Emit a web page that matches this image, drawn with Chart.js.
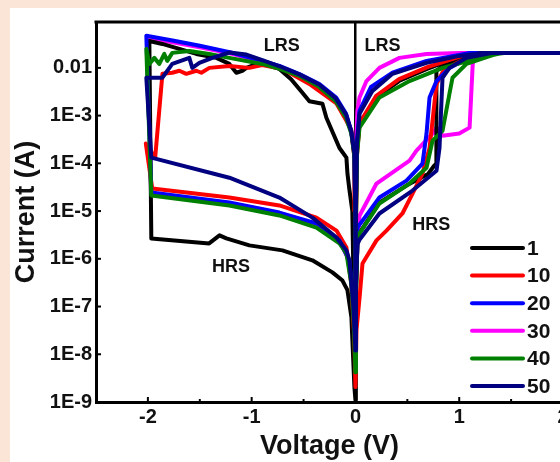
<!DOCTYPE html>
<html>
<head>
<meta charset="utf-8">
<script src="https://cdn.jsdelivr.net/npm/chart.js@4.4.0/dist/chart.umd.min.js"></script>
<style>
  html, body { margin: 0; padding: 0; width: 560px; height: 462px; overflow: hidden; background: #fae5d7; }
  #panel { position: absolute; left: 10px; top: 8px; width: 600px; height: 454px; background: #ffffff; }
  canvas { display: block; }
</style>
</head>
<body>
<div id="panel"><canvas id="c" width="600" height="454"></canvas></div>
<script>
// ---------- data ----------
const cycleLabels = ['1', '10', '20', '30', '40', '50'];

const xTickValues = [-2, -1, 0, 1, 2];
const xTickLabels = ['-2', '-1', '0', '1', '2'];
const yTickValues = [1e-2, 1e-3, 1e-4, 1e-5, 1e-6, 1e-7, 1e-8, 1e-9];
const yTickLabels = ['0.01', '1E-3', '1E-4', '1E-5', '1E-6', '1E-7', '1E-8', '1E-9'];

// cycle 1
const voltage1 = [0, 0.004, 0.02, 0.23, 0.5, 0.7, 0.76, 0.78, 0.78, 0.85, 1.0, 1.2, 1.4, 2.0,
  1.2, 0.97, 0.69, 0.42, 0.2, 0.04, 0.015, 0.005, 0,
  -0.03, -0.06, -0.077, -0.087, -0.154, -0.28, -0.318, -0.444, -0.511, -0.62, -0.733, -0.926, -1.05, -1.09, -1.148, -1.215, -1.34, -1.533, -1.697, -1.861, -1.986,
  -1.967, -1.41, -1.31, -1.244, -1.022, -0.704, -0.415, -0.222, -0.125, -0.077, -0.039, -0.01, 0];
const current1 = [1.1e-9, 1e-7, 3e-6, 1.5e-5, 3.5e-5, 6e-5, 9e-5, 1.0e-4, 8.7e-3, 1.1e-2, 1.4e-2, 1.8e-2, 2.06e-2, 2.06e-2,
  2.06e-2, 1.62e-2, 9.5e-3, 5.3e-3, 2.4e-3, 6.8e-4, 2e-4, 1e-5, 1.1e-9,
  1e-5, 3e-5, 6.1e-5, 1.32e-4, 2.1e-4, 9e-4, 1.77e-3, 2.0e-3, 3.0e-3, 5.8e-3, 9.5e-3, 1.27e-2, 1.0e-2, 8.7e-3, 7.9e-3, 1.21e-2, 1.62e-2, 1.96e-2, 2.5e-2, 3.17e-2, 3.66e-2,
  2.67e-6, 2.1e-6, 3.1e-6, 2.67e-6, 1.91e-6, 1.5e-6, 9.3e-7, 5.2e-7, 3.5e-7, 2.2e-7, 6e-8, 2.06e-9, 1.1e-9];

// cycle 10
const voltage10 = [0, 0.01, 0.04, 0.068, 0.203, 0.299, 0.453, 0.55, 0.646, 0.714, 0.743, 0.781, 0.85, 1.0, 1.2, 1.4, 2.0,
  1.2, 1.0, 0.7, 0.42, 0.2, 0.04, 0.015, 0.005, 0,
  -0.005, -0.01, -0.04, -0.087, -0.183, -0.444, -0.7, -0.9, -1.022, -1.215, -1.408, -1.485, -1.533, -1.63, -1.697, -1.765, -1.86,
  -1.93, -2.02, -1.958, -1.215, -0.733, -0.376, -0.183, -0.087, -0.04, -0.01, 0];
const current10 = [2.06e-9, 3.2e-8, 1.56e-7, 8e-7, 2.43e-6, 3.9e-6, 8.9e-6, 2.33e-5, 6.1e-5, 2.1e-4, 7.8e-4, 4.6e-3, 9e-3, 1.35e-2, 1.8e-2, 2.06e-2, 2.06e-2,
  2.06e-2, 1.7e-2, 1.05e-2, 5.8e-3, 2.6e-3, 7e-4, 1.5e-4, 5e-6, 2.06e-9,
  1e-5, 1.3e-4, 5e-4, 7.8e-4, 1.8e-3, 4.6e-3, 9.5e-3, 1.15e-2, 1.0e-2, 1.1e-2, 1.0e-2, 7.9e-3, 8.7e-3, 7.5e-3, 8.7e-3, 7.9e-3, 7.5e-3,
  1.3e-4, 2.6e-4, 2.96e-5, 1.92e-5, 1.31e-5, 7.3e-6, 3.9e-6, 1.73e-6, 3e-7, 2e-8, 2.06e-9];

// cycle 20
const voltage20 = [0, 0.005, 0.019, 0.231, 0.492, 0.646, 0.685, 0.714, 0.781, 0.906, 1.1, 1.3, 2.0,
  1.1, 1.0, 0.685, 0.357, 0.15, 0.039, 0.015, 0.005, 0,
  -0.004, -0.01, -0.041, -0.09, -0.186, -0.347, -0.54, -0.733, -0.926, -1.2, -1.5, -1.75, -2.015,
  -1.967, -1.215, -0.733, -0.376, -0.154, -0.06, -0.02, 0];
const current20 = [3e-8, 5e-7, 4.5e-6, 1.92e-5, 4.35e-5, 9.9e-5, 4.2e-4, 2.4e-3, 5.3e-3, 1.0e-2, 1.65e-2, 2.06e-2, 2.06e-2,
  2.06e-2, 1.87e-2, 1.4e-2, 7.9e-3, 4e-3, 1.26e-3, 3e-4, 2e-5, 3e-8,
  1e-5, 1.6e-4, 4.8e-4, 1.09e-3, 2.4e-3, 4.6e-3, 7.4e-3, 1.1e-2, 1.45e-2, 2.1e-2, 2.9e-2, 3.7e-2, 4.7e-2,
  2.44e-5, 1.51e-5, 9.3e-6, 5.5e-6, 2.43e-6, 9.3e-7, 1.35e-7, 3e-8];

// cycle 30
const voltage30 = [0, 0.005, 0.019, 0.039, 0.203, 0.521, 0.588, 0.743, 0.781, 0.84, 1.0, 1.1, 1.13, 1.15, 2.0,
  1.0, 0.685, 0.424, 0.231, 0.106, 0.039, 0.019, 0.01, 0.004, 0,
  -0.004, -0.01, -0.04, -0.09, -0.19, -0.35, -0.54, -0.73, -0.93, -1.2, -1.5, -1.75, -2.0,
  -1.97, -1.2, -0.73, -0.38, -0.15, -0.06, -0.02, 0];
const current30 = [3e-8, 3e-7, 2e-6, 8e-6, 3.77e-5, 1.14e-4, 1.84e-4, 4.2e-4, 5.6e-4, 3.8e-4, 4.2e-4, 5.6e-4, 1.2e-2, 2.06e-2, 2.06e-2,
  2.06e-2, 1.96e-2, 1.62e-2, 1.0e-2, 5.3e-3, 2.4e-3, 1.26e-3, 4.2e-4, 2e-5, 3e-8,
  1e-5, 1.5e-4, 4.5e-4, 1e-3, 2.2e-3, 4.3e-3, 7e-3, 1.05e-2, 1.4e-2, 2e-2, 2.7e-2, 3.4e-2, 4.2e-2,
  2.3e-5, 1.45e-5, 9e-6, 5.3e-6, 2.3e-6, 9e-7, 1.3e-7, 3e-8];

// cycle 40
const voltage40 = [0, 0.005, 0.02, 0.039, 0.231, 0.521, 0.685, 0.743, 0.839, 0.906, 0.935, 1.07, 1.36, 1.45, 2.0,
  1.418, 1.167, 0.839, 0.521, 0.231, 0.039, 0.015, 0.005, 0,
  -0.004, -0.01, -0.04, -0.09, -0.19, -0.35, -0.54, -0.73, -0.897, -1.215, -1.408, -1.601, -1.765, -1.813, -1.842, -1.89, -1.938, -1.986, -2.015,
  -1.967, -1.215, -0.733, -0.376, -0.154, -0.087, -0.04, -0.015, 0];
const current40 = [4.2e-9, 2e-7, 2.5e-6, 3.4e-6, 1.44e-5, 3.77e-5, 8.1e-5, 3.0e-4, 4.8e-4, 2.9e-3, 6.2e-3, 1.21e-2, 1.96e-2, 2.06e-2, 2.06e-2,
  2.06e-2, 1.55e-2, 1.0e-2, 5.3e-3, 2.4e-3, 5.6e-4, 1.5e-4, 5e-6, 4.2e-9,
  1e-5, 1.4e-4, 4.2e-4, 9e-4, 2e-3, 4e-3, 6.8e-3, 9.5e-3, 1.21e-2, 1.62e-2, 1.96e-2, 2.26e-2, 2.06e-2, 1.4e-2, 1.96e-2, 1.21e-2, 1.62e-2, 1.21e-2, 2.5e-2,
  2.12e-5, 1.31e-5, 8.1e-6, 4.5e-6, 2.1e-6, 1.3e-6, 3e-7, 4e-8, 4.2e-9];

// cycle 50
const voltage50 = [0, 0.005, 0.019, 0.039, 0.231, 0.55, 0.781, 0.81, 0.829, 0.839, 0.906, 1.07, 1.32, 2.0,
  1.2, 1.167, 1.0, 0.685, 0.357, 0.164, 0.039, 0.015, 0.005, 0,
  -0.004, -0.01, -0.04, -0.09, -0.19, -0.35, -0.54, -0.73, -0.897, -1.051, -1.215, -1.379, -1.504, -1.572, -1.601, -1.765, -1.861, -2.015,
  -1.967, -1.215, -0.733, -0.415, -0.183, -0.087, -0.058, -0.02, 0];
const current50 = [1.2e-8, 3e-7, 2e-6, 2.5e-6, 8.9e-6, 2.69e-5, 7e-5, 2.1e-4, 2e-3, 6.2e-3, 1.0e-2, 1.62e-2, 2.06e-2, 2.06e-2,
  2.06e-2, 1.96e-2, 1.78e-2, 1.27e-2, 7.5e-3, 3.3e-3, 1.09e-3, 2.5e-4, 1.5e-5, 1.2e-8,
  1.2e-5, 1.6e-4, 4.6e-4, 1.05e-3, 2.3e-3, 4.5e-3, 7.3e-3, 1.08e-2, 1.45e-2, 1.9e-2, 2.1e-2, 1.62e-2, 1.27e-2, 1.0e-2, 1.62e-2, 1.21e-2, 6.2e-3, 6.2e-3,
  1.32e-4, 5.0e-5, 1.92e-5, 7.3e-6, 2.8e-6, 1.5e-6, 9.3e-7, 1e-7, 1.2e-8];

// text labels placed in data coordinates
const stateLabels = ['LRS', 'LRS', 'HRS', 'HRS'];
const stateVoltage = [-0.71, 0.26, -1.2, 0.73];
const stateCurrent = [0.029, 0.029, 6.6e-7, 5e-6];

// ---------- chart ----------
const voltages = [voltage1, voltage10, voltage20, voltage30, voltage40, voltage50];
const currents = [current1, current10, current20, current30, current40, current50];
const colors = ['#000000', '#ff0000', '#0000ff', '#ff00ff', '#008000', '#000080'];
const drawOrder = [5, 4, 3, 6, 2, 1];

const datasets = cycleLabels.map((lab, k) => ({
  label: lab,
  data: voltages[k].map((v, j) => ({ x: v, y: currents[k][j] })),
  showLine: true,
  borderColor: colors[k],
  backgroundColor: colors[k],
  borderWidth: 4,
  pointRadius: 0,
  tension: 0,
  order: drawOrder[k],
  borderJoinStyle: 'round',
  borderCapStyle: 'round'
}));

const FONT = '"Liberation Sans", Arial, sans-serif';

const decorPlugin = {
  id: 'decor',
  afterDatasetsDraw(chart) {
    const ctx = chart.ctx;
    const a = chart.chartArea;
    const xs = chart.scales.x, ys = chart.scales.y;
    ctx.save();
    ctx.strokeStyle = '#000';
    // top frame line
    ctx.lineWidth = 3;
    ctx.beginPath();
    ctx.moveTo(a.left - 1.5, a.top);
    ctx.lineTo(a.right + 1.5, a.top);
    ctx.stroke();
    // inward ticks
    ctx.lineWidth = 2;
    yTickValues.forEach(v => {
      const p = ys.getPixelForValue(v);
      ctx.beginPath(); ctx.moveTo(a.left, p); ctx.lineTo(a.left + 5, p); ctx.stroke();
    });
    for (let v = -2.5; v <= 2.001; v += 0.5) {
      const p = xs.getPixelForValue(v);
      const len = Math.abs(v - Math.round(v)) < 1e-6 ? 5 : 3;
      ctx.beginPath(); ctx.moveTo(p, a.bottom); ctx.lineTo(p, a.bottom - len); ctx.stroke();
    }
    // state labels
    ctx.fillStyle = '#111';
    ctx.font = 'bold 18px ' + FONT;
    ctx.textAlign = 'center';
    ctx.textBaseline = 'middle';
    stateLabels.forEach((t, i) => {
      ctx.fillText(t, xs.getPixelForValue(stateVoltage[i]), ys.getPixelForValue(stateCurrent[i]));
    });
    // legend
    const lx = a.left + 376;
    const ly = a.top + 226;
    ctx.font = 'bold 21px ' + FONT;
    ctx.textAlign = 'left';
    chart.data.datasets.forEach((ds, i) => {
      const y = ly + i * 27.6;
      ctx.strokeStyle = ds.borderColor;
      ctx.lineWidth = 4;
      ctx.lineCap = 'round';
      ctx.beginPath(); ctx.moveTo(lx, y); ctx.lineTo(lx + 51, y); ctx.stroke();
      ctx.fillStyle = '#111';
      ctx.fillText(ds.label, lx + 55, y + 1);
    });
    ctx.restore();
  }
};

new Chart(document.getElementById('c'), {
  type: 'scatter',
  data: { datasets },
  options: {
    responsive: false,
    animation: false,
    layout: { padding: { left: 0, top: 13, right: 47, bottom: 0 } },
    plugins: { legend: { display: false }, tooltip: { enabled: false } },
    scales: {
      x: {
        type: 'linear',
        min: -2.5,
        max: 2.0,
        afterBuildTicks: s => { s.ticks = xTickValues.map(v => ({ value: v })); },
        afterFit: s => { s.height = 60; },
        ticks: {
          color: '#111',
          font: { family: FONT, size: 20, weight: 'bold' },
          padding: 3,
          maxRotation: 0,
          callback: (v) => { const i = xTickValues.indexOf(v); return i >= 0 ? xTickLabels[i] : ''; }
        },
        grid: {
          drawTicks: false,
          lineWidth: 2.5,
          color: (c) => (c.tick && c.tick.value === 0 ? '#000' : 'rgba(0,0,0,0)')
        },
        border: { display: true, color: '#000', width: 3 },
        title: {
          display: true,
          text: 'Voltage (V)',
          color: '#111',
          font: { family: FONT, size: 27, weight: 'bold', lineHeight: 1 },
          padding: { top: 0, bottom: 2 }
        }
      },
      y: {
        type: 'logarithmic',
        min: 1e-9,
        max: 0.0914,
        afterBuildTicks: s => { s.ticks = yTickValues.map(v => ({ value: v })); },
        afterFit: s => { s.width = 86; },
        ticks: {
          color: '#111',
          font: { family: FONT, size: 20, weight: 'bold', lineHeight: 1 },
          padding: 4,
          callback: (v) => {
            const i = yTickValues.findIndex(t => Math.abs(Math.log10(t) - Math.log10(v)) < 1e-6);
            return i >= 0 ? yTickLabels[i] : '';
          }
        },
        grid: { display: false, drawTicks: false },
        border: { display: true, color: '#000', width: 3 },
        title: {
          display: true,
          text: 'Current (A)',
          color: '#111',
          font: { family: FONT, size: 27, weight: 'bold', lineHeight: 1 },
          padding: { top: 3, bottom: 0 }
        }
      }
    }
  },
  plugins: [decorPlugin]
});
</script>
</body>
</html>
